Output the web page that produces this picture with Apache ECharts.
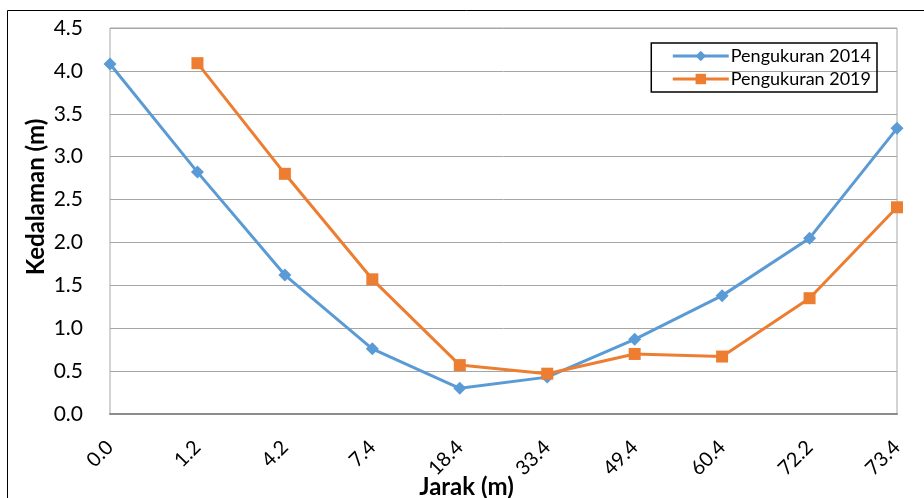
<!DOCTYPE html>
<html><head><meta charset="utf-8">
<script src="https://cdn.jsdelivr.net/npm/echarts@6/dist/echarts.min.js"></script>
<style>html,body{margin:0;padding:0;background:#fff}#c{width:924px;height:498px}</style>
</head><body><div id="c"></div>
<script>
var categories = ['0.0','1.2','4.2','7.4','18.4','33.4','49.4','60.4','72.2','73.4'];
var values2014 = [4.08, 2.82, 1.62, 0.76, 0.30, 0.43, 0.87, 1.38, 2.05, 3.33];
var values2019 = [null, 4.09, 2.80, 1.57, 0.57, 0.47, 0.70, 0.67, 1.35, 2.41];
var seriesNames = ['Pengukuran 2014', 'Pengukuran 2019'];
var FONT = 'Lato';
var chart = echarts.init(document.getElementById('c'), null, {renderer:'canvas'});
chart.setOption({
  animation:false,
  textStyle:{fontFamily:FONT},
  graphic:[{type:'rect', shape:{x:7.5,y:10.5,width:1000,height:1000}, style:{fill:'none',stroke:'#000',lineWidth:1}, silent:true}],
  grid:{left:110,right:27,top:28,bottom:84,show:true,borderColor:'#a6a6a6',borderWidth:1,outerBoundsMode:'none',containLabel:false},
  legend:{orient:'vertical',right:47,top:43,borderColor:'#000',borderWidth:1.5,padding:[4,6,4,20],
    itemWidth:56,itemHeight:13,itemGap:5,lineStyle:{width:3},
    textStyle:{fontFamily:FONT,fontSize:18,color:'#000',padding:[0,0,0,-3]},
    data:seriesNames},
  xAxis:{type:'category',data:categories,boundaryGap:false,
    name:'Jarak (m)',nameLocation:'middle',nameGap:61,nameMoveOverlap:false,
    nameTextStyle:{fontFamily:FONT,fontSize:24,fontWeight:'bold',color:'#000',padding:[0,74,0,0]},
    axisLine:{lineStyle:{color:'#8c8c8c',width:2}},axisTick:{show:false},
    axisLabel:{rotate:45,fontSize:20,color:'#000',margin:30,fontFamily:FONT}},
  yAxis:{type:'value',min:0,max:4.5,interval:0.5,
    name:'Kedalaman (m)',nameLocation:'middle',nameGap:62,nameMoveOverlap:false,
    nameTextStyle:{fontFamily:FONT,fontSize:24,fontWeight:'bold',color:'#000',padding:[0,0,0,48]},
    axisLine:{show:false},axisTick:{show:false},
    splitLine:{lineStyle:{color:'#a6a6a6',width:1}},
    axisLabel:{fontSize:21,color:'#000',margin:27,fontFamily:FONT,formatter:function(v){return v.toFixed(1);}}},
  series:[
    {name:seriesNames[0],type:'line',data:values2014,symbol:'diamond',symbolSize:13,
      lineStyle:{color:'#5B9BD5',width:3},itemStyle:{color:'#5B9BD5'}},
    {name:seriesNames[1],type:'line',data:values2019,symbol:'rect',symbolSize:12,
      lineStyle:{color:'#ED7D31',width:3},itemStyle:{color:'#ED7D31'}}
  ]
});
</script></body></html>
